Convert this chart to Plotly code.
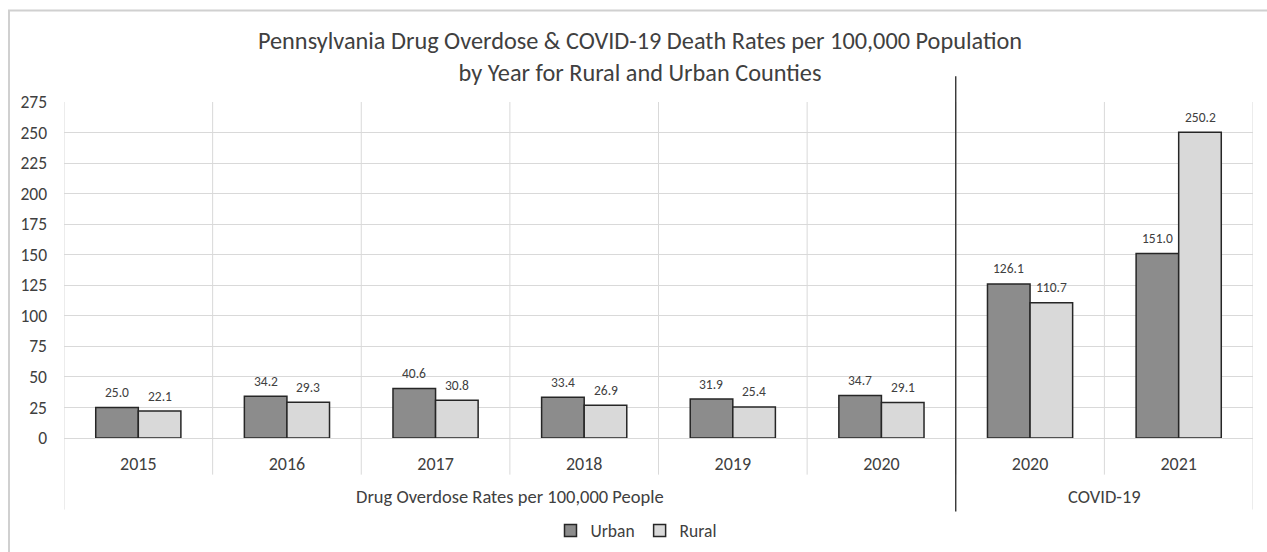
import plotly.graph_objects as go

# ---- data ----
year_labels = ["2015", "2016", "2017", "2018", "2019", "2020", "2020", "2021"]
urban = [25.0, 34.2, 40.6, 33.4, 31.9, 34.7, 126.1, 151.0]
rural = [22.1, 29.3, 30.8, 26.9, 25.4, 29.1, 110.7, 250.2]
group_labels = ["Drug Overdose Rates per 100,000 People", "COVID-19"]
group_centers = [2.5, 6.5]
title_text = ("Pennsylvania Drug Overdose & COVID-19 Death Rates per 100,000 Population"
              "<br>by Year for Rural and Urban Counties")

FONT = "Carlito, Calibri, Lato, sans-serif"
TXT = "#404040"
GRID = "#d9d9d9"

xs = list(range(len(year_labels)))

# pixel geometry
W, H = 1267, 552
L, R, T, B = 64, 14, 101.7, 113.7
plot_h = H - T - B
plot_w = W - L - R
def py(pix_y):  # page pixel y -> paper y
    return (H - B - pix_y) / plot_h
def px(pix_x):
    return (pix_x - L) / plot_w

fig = go.Figure()
fig.add_trace(go.Bar(x=xs, y=urban, name="Urban",
                     marker=dict(color="#8c8c8c", line=dict(color="#262626", width=1.5))))
fig.add_trace(go.Bar(x=xs, y=rural, name="Rural",
                     marker=dict(color="#d9d9d9", line=dict(color="#262626", width=1.5))))

annotations = []
n = len(xs)
off = 0.287 / 2
for i in range(n):
    annotations.append(dict(x=xs[i] - off, y=urban[i], xref="x", yref="y",
                            text=f"{urban[i]:.1f}", showarrow=False, yshift=15,
                            font=dict(size=13.5, color=TXT, family=FONT)))
    annotations.append(dict(x=xs[i] + off, y=rural[i], xref="x", yref="y",
                            text=f"{rural[i]:.1f}", showarrow=False, yshift=15,
                            font=dict(size=13.5, color=TXT, family=FONT)))
for g, c in zip(group_labels, group_centers):
    annotations.append(dict(x=c, y=py(497), xref="x", yref="paper", text=g,
                            showarrow=False, yanchor="middle",
                            font=dict(size=18.5, color=TXT, family=FONT)))

boundaries = [i - 0.5 for i in range(n + 1)]
shapes = []
# vertical grid lines at category boundaries inside plot
for xb in boundaries:
    shapes.append(dict(type="line", xref="x", yref="paper", x0=xb, x1=xb, y0=0, y1=1,
                       line=dict(color=GRID, width=1), layer="below"))
# year separators below the axis
for xb in boundaries[1:-1]:
    shapes.append(dict(type="line", xref="x", yref="paper", x0=xb, x1=xb,
                       y0=py(475), y1=0, line=dict(color=GRID, width=1)))
# outer group boundaries extending below
for xb in [boundaries[0], boundaries[-1]]:
    shapes.append(dict(type="line", xref="x", yref="paper", x0=xb, x1=xb,
                       y0=py(510), y1=0, line=dict(color=GRID, width=1)))
# separator between groups
shapes.append(dict(type="line", xref="x", yref="paper", x0=5.5, x1=5.5,
                   y0=py(512), y1=py(76), line=dict(color="#262626", width=1.3)))
# outer chart border
shapes.append(dict(type="rect", xref="paper", yref="paper",
                   x0=px(9), x1=px(1275), y0=py(560), y1=py(10),
                   line=dict(color="#d0d0d0", width=2), fillcolor="rgba(0,0,0,0)"))

fig.update_layout(
    width=W, height=H, autosize=False,
    margin=dict(l=L, r=R, t=T, b=B, autoexpand=False),
    paper_bgcolor="white", plot_bgcolor="white",
    barmode="group", bargap=0.427, bargroupgap=0,
    title=dict(text=title_text, x=(257 + 1023) / 2 / W, xref="container", xanchor="center",
               y=1 - 49 / H, yref="container", yanchor="middle",
               font=dict(size=24.3, color=TXT, family=FONT)),
    font=dict(family=FONT, color=TXT),
    showlegend=True,
    legend=dict(orientation="h", x=px(636), xanchor="center",
                y=py(531), yanchor="middle",
                font=dict(size=17.5, color=TXT, family=FONT),
                itemwidth=30, tracegroupgap=0),
    annotations=annotations,
    shapes=shapes,
)
fig.update_xaxes(
    range=[-0.5, n - 0.5], tickvals=xs, ticktext=year_labels,
    showgrid=False, zeroline=False, showline=False, automargin=False,
    ticks="", ticklabelstandoff=13,
    tickfont=dict(size=18, color=TXT, family=FONT),
)
fig.update_yaxes(
    range=[0, 275], dtick=25, showgrid=True, gridcolor=GRID, gridwidth=1,
    zeroline=True, zerolinecolor=GRID, zerolinewidth=1, showline=False,
    automargin=False, ticks="", ticklabelstandoff=16,
    tickfont=dict(size=17.5, color=TXT, family=FONT),
)

fig.write_html("out.html")
